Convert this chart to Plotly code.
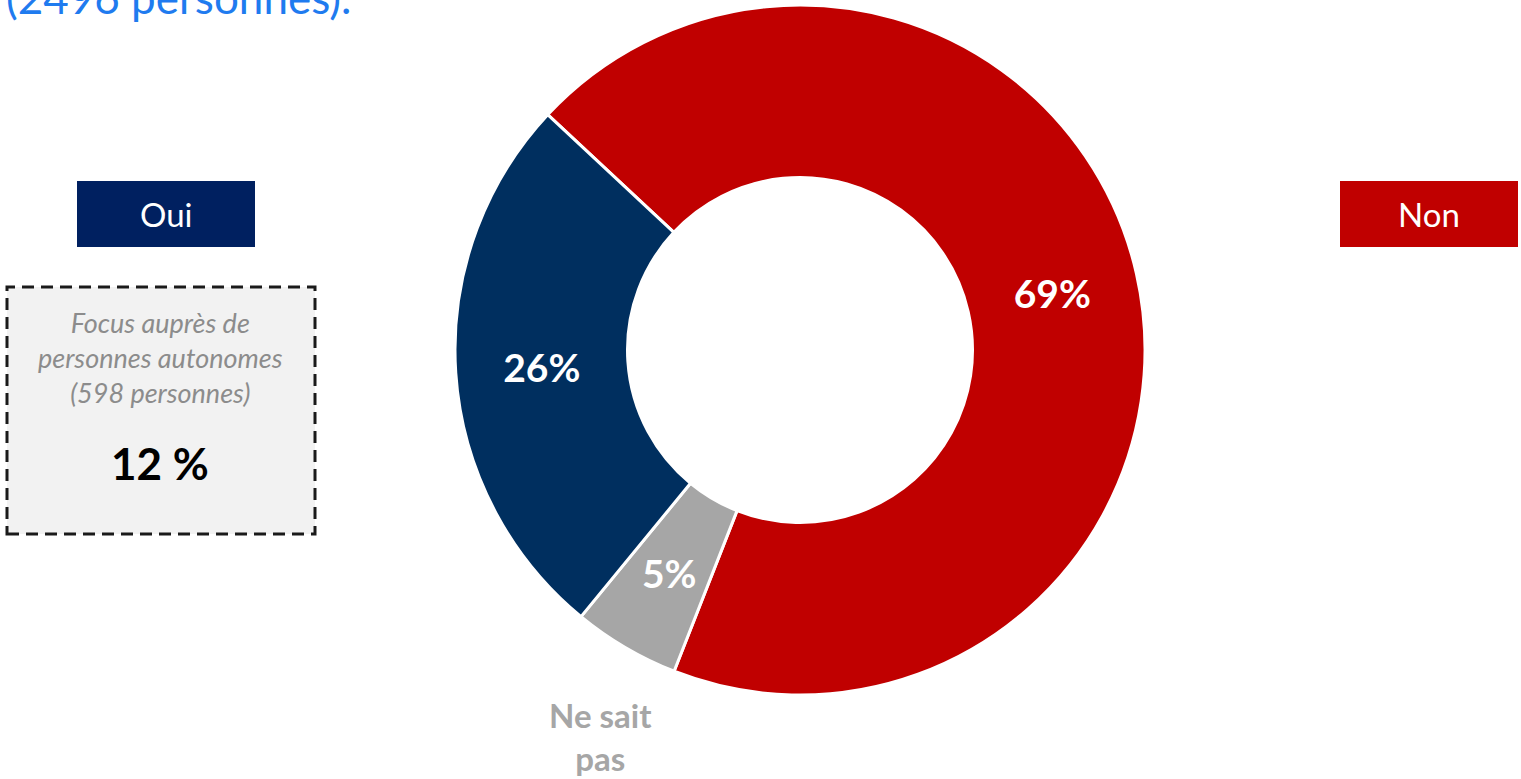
import math
import plotly.graph_objects as go

W, H = 1521, 779

# Data
categories = ["Non", "Ne sait pas", "Oui"]
values = [69, 5, 26]
slice_colors = ["#C00000", "#A6A6A6", "#002F5F"]
slice_text = ["69%", "5%", "26%"]

title_text = "(2496 personnes)."
focus_lines = ["Focus auprès de", "personnes autonomes", "(598 personnes)"]
focus_value = "12 %"

FONT = "Lato"
ROTATION = 313
HOLE = 0.5

def px(x):
    return x / W

def py(y):
    return 1 - y / H

cx, cy, R = 800, 350, 345

# the narrow grey slice label is placed at the mid-ring of its slice (computed from the data)
inside_text = [t if v >= 10 else "" for t, v in zip(slice_text, values)]
total = sum(values)
extra_annotations = []
start = ROTATION
for t, v in zip(slice_text, values):
    span = 360 * v / total
    if v < 10:
        mid = math.radians(start + span / 2)
        rm = R * (1 + HOLE) / 2
        x = cx + rm * math.sin(mid)
        y = cy - rm * math.cos(mid)
        extra_annotations.append(dict(
            text="<b>" + t + "</b>", x=px(x), y=py(y), xref="paper", yref="paper",
            xanchor="center", yanchor="middle", showarrow=False,
            font=dict(family=FONT, size=39, color="white")))
    start += span

fig = go.Figure()
fig.add_trace(go.Pie(
    labels=categories,
    values=values,
    text=inside_text,
    textinfo="text",
    textposition="inside",
    insidetextorientation="horizontal",
    sort=False,
    direction="clockwise",
    rotation=ROTATION,
    hole=HOLE,
    marker=dict(colors=slice_colors, line=dict(color="white", width=3)),
    insidetextfont=dict(family=FONT, size=39, color="white", weight="bold"),
    domain=dict(x=[px(cx - R), px(cx + R)], y=[py(cy + R), py(cy - R)]),
    hoverinfo="skip",
    showlegend=False,
))

shapes = [
    dict(type="rect", xref="paper", yref="paper",
         x0=px(77), x1=px(255), y0=py(247), y1=py(181),
         fillcolor="#002060", line=dict(width=0)),
    dict(type="rect", xref="paper", yref="paper",
         x0=px(1340), x1=px(1518), y0=py(247), y1=py(181),
         fillcolor="#C00000", line=dict(width=0)),
    dict(type="rect", xref="paper", yref="paper",
         x0=px(7), x1=px(315), y0=py(534), y1=py(287),
         fillcolor="#F2F2F2", line=dict(color="#1a1a1a", width=3, dash="12px,7px")),
]

annotations = [
    dict(text=title_text, x=px(4), y=py(15), xref="paper", yref="paper",
         xanchor="left", yanchor="bottom", showarrow=False, yshift=-10,
         font=dict(family=FONT, size=44, color="#1F7BEF")),
    dict(text="Oui", x=px(166), y=py(214), xref="paper", yref="paper",
         xanchor="center", yanchor="middle", showarrow=False,
         font=dict(family=FONT, size=33, color="white")),
    dict(text="Non", x=px(1429), y=py(214), xref="paper", yref="paper",
         xanchor="center", yanchor="middle", showarrow=False,
         font=dict(family=FONT, size=33, color="white")),
    dict(text="<br>".join(focus_lines), x=px(160), y=py(357), xref="paper", yref="paper",
         xanchor="center", yanchor="middle", showarrow=False,
         font=dict(family=FONT, size=27, color="#8C8C8C", style="italic")),
    dict(text="<b>" + focus_value + "</b>", x=px(160), y=py(463), xref="paper", yref="paper",
         xanchor="center", yanchor="middle", showarrow=False,
         font=dict(family=FONT, size=44, color="#000000")),
    dict(text="<b>Ne sait<br>pas</b>", x=px(600), y=py(736), xref="paper", yref="paper",
         xanchor="center", yanchor="middle", showarrow=False,
         font=dict(family=FONT, size=33, color="#A6A6A6")),
] + extra_annotations

fig.update_layout(
    width=W, height=H,
    margin=dict(l=0, r=0, t=0, b=0),
    paper_bgcolor="white", plot_bgcolor="white",
    shapes=shapes, annotations=annotations,
)

fig.write_html("out.html")
